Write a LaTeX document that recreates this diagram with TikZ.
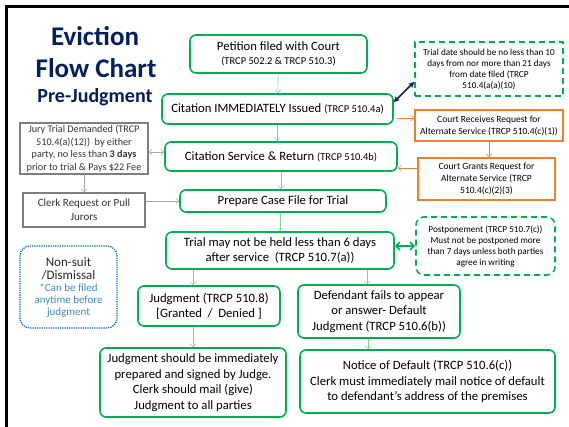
\documentclass[tikz,border=0pt]{standalone}
\usepackage{fontspec}
\setmainfont{Carlito}
\usetikzlibrary{arrows.meta}
\usetikzlibrary{positioning}

\definecolor{evgreen}{HTML}{00B050}
\definecolor{arrowgreen}{HTML}{7ED68E}
\definecolor{evorange}{HTML}{ED7D31}
\definecolor{evgray}{HTML}{7F7F7F}
\definecolor{evnavy}{HTML}{002060}
\definecolor{evblue}{HTML}{0070C0}
\definecolor{notetext}{HTML}{3A8AD6}

\newcommand\trcp[1]{{\fontsize{10.5}{12}\selectfont #1}}
\newcommand\bignote[1]{{\fontsize{13}{15}\selectfont\color{black!85}#1}}
\newcommand\smallnote[1]{{\fontsize{11}{13}\selectfont\color{notetext}#1}}

\tikzset{
  sized/.style 2 args={minimum width=#1, minimum height=#2, inner sep=1pt, align=center},
  greenbox/.style={draw=evgreen, line width=1.6pt, rounded corners=6pt, font=\fontsize{12.7}{15.5}\selectfont},
  dashbox/.style={draw=evgreen, line width=1.6pt, dash pattern=on 6pt off 4pt, font=\fontsize{9.2}{11}\selectfont},
  orangebox/.style={draw=evorange, line width=1.6pt, font=\fontsize{9.5}{11.8}\selectfont},
  graybox/.style={draw=evgray, line width=1.6pt, text=black!80, font=\fontsize{10.2}{12.8}\selectfont},
  dotbox/.style={draw=evblue, line width=1.3pt, densely dotted, rounded corners=10pt},
  link/.style={-{Straight Barb[length=3pt,width=6pt]}, draw=arrowgreen, line width=0.6pt},
  graylink/.style={link, draw=evgray!70},
  orangelink/.style={link, draw=evorange},
}

\begin{document}
\begin{tikzpicture}[x=1pt, y=-1pt]
  \useasboundingbox (0,0) rectangle (569,427);
  % frame
  \draw [line width=3pt] (6.5,427) -- (6.5,6.5) -- (569,6.5);

  % title
  \node (title1) at (95,36) [text=evnavy, font=\fontsize{27}{30}\bfseries] {Eviction};
  \node (title2) at (96,68) [text=evnavy, font=\fontsize{27}{30}\bfseries] {Flow Chart};
  \node (title3) at (95,97) [text=evnavy, font=\fontsize{20}{23}\bfseries] {Pre-Judgment};

  % main column
  \node (petition) at (278.5,54) [greenbox, sized={177pt}{38pt}, font=\fontsize{12.7}{14}\selectfont]
    {Petition filed with Court\\\trcp{(TRCP 502.2 \& TRCP 510.3)}};
  \node (citation) at (277.5,109) [greenbox, sized={231pt}{30pt}]
    {Citation IMMEDIATELY Issued \trcp{(TRCP 510.4a)}};
  \node (service) at (281,156.5) [greenbox, sized={232pt}{29pt}]
    {Citation Service \& Return \trcp{(TRCP 510.4b)}};
  \node (prepare) at (283,201) [greenbox, sized={206pt}{22pt}]
    {Prepare Case File for Trial};
  \node (trial) at (280,250.5) [greenbox, sized={228pt}{37pt}]
    {Trial may not be held less than 6 days\\after service~ (TRCP 510.7(a))};
  \node (judgment) at (209,306) [greenbox, sized={142pt}{40pt}]
    {Judgment (TRCP 510.8)\\{}[Granted~ /~ Denied ]};
  \node (defendant) at (379,311.5) [greenbox, sized={162pt}{53pt}]
    {Defendant fails to appear\\or answer- Default\\Judgment (TRCP 510.6(b))};
  \node (judgshould) at (193,382.5) [greenbox, sized={186pt}{69pt}]
    {Judgment should be immediately\\prepared and signed by Judge.\\Clerk should mail (give)\\Judgment to all parties};
  \node (notice) at (427.5,381.5) [greenbox, sized={255pt}{63pt}]
    {Notice of Default (TRCP 510.6(c))\\Clerk must immediately mail notice of default\\to defendant’s address of the premises};

  % right column
  \node (trialdate) at (489,69) [dashbox, sized={148pt}{54pt}]
    {Trial date should be no less than 10\\days from nor more than 21 days\\from date filed (TRCP\\510.4(a(a)(10)};
  \node (receives) at (489,125.5) [orangebox, sized={148pt}{31pt}]
    {Court Receives Request for\\Alternate Service (TRCP 510.4(c)(1))};
  \node (grants) at (486.5,179) [orangebox, sized={137pt}{42pt}]
    {Court Grants Request for\\Alternate Service (TRCP\\510.4(c)(2)(3)};
  \node (postpone) at (485.5,246) [dashbox, rounded corners=8pt, sized={139pt}{58pt}]
    {Postponement (TRCP 510.7(c))\\Must not be postponed more\\than 7 days unless both parties\\agree in writing};

  % left column
  \node (jury) at (84,148.5) [graybox, sized={128pt}{51pt}]
    {Jury Trial Demanded (TRCP\\510.4(a)(12))~ by either\\party, no less than \textbf{3 days}\\prior to trial \& Pays \$22 Fee};
  \node (clerk) at (84,210) [graybox, sized={122pt}{34pt}, font=\fontsize{11}{14}\selectfont]
    {Clerk Request or Pull\\Jurors};
  \node (nonsuit) at (68.5,287) [dotbox, sized={97pt}{82pt}]
    {\bignote{Non-suit}\\[1pt]\bignote{/Dismissal}\\\smallnote{*Can be filed}\\\smallnote{anytime before}\\\smallnote{judgment}};

  % connectors
  \draw [link] (petition) -- (citation);
  \draw [link] (citation) -- (citation.south |- service.north);
  \draw [link] (service.south) -- (service.south |- prepare.north);
  \draw [link] (prepare.south -| trial) -- (trial.north);
  \draw [link] (trial.south -| judgshould) -- (judgment.north -| judgshould);
  \draw [link] (judgment.south -| judgshould) -- (judgshould.north);
  \draw [link] ([xshift=-12pt]defendant.north |- trial.south) -- ([xshift=-12pt]defendant.north);
  \draw [link] ([xshift=-11pt]defendant.south) -- ([xshift=-11pt]defendant.south |- notice.north);

  \draw [{Stealth[length=6pt,width=6pt]}-{Stealth[length=6pt,width=6pt]}, draw=evnavy, line width=1.6pt]
    ([yshift=7pt]citation.east) -- ([yshift=-13pt]trialdate.west);
  \draw [orangelink, shorten <=3pt] ([yshift=7.5pt]receives.west -| citation.east) -- ([yshift=7.5pt]receives.west);
  \draw [orangelink] (receives.south) -- (receives.south |- grants.north);
  \draw [orangelink] ([yshift=11pt]grants.west) -- ([yshift=11pt]grants.west -| service.east);

  \draw [graylink, {Straight Barb[length=3pt,width=6pt]}-{Straight Barb[length=3pt,width=6pt]}]
    ([yshift=4.5pt]service.west -| jury.east) -- ([yshift=4.5pt]service.west);
  \draw [graylink] (jury.south) -- (clerk.north);
  \draw [graylink] (clerk.east |- prepare.west) -- (prepare.west);

  \draw [{Straight Barb[length=4pt,width=8pt]}-{Straight Barb[length=4pt,width=8pt]}, draw=evgreen, line width=1.6pt]
    (trial.east |- postpone.west) -- (postpone.west);
\end{tikzpicture}
\end{document}
